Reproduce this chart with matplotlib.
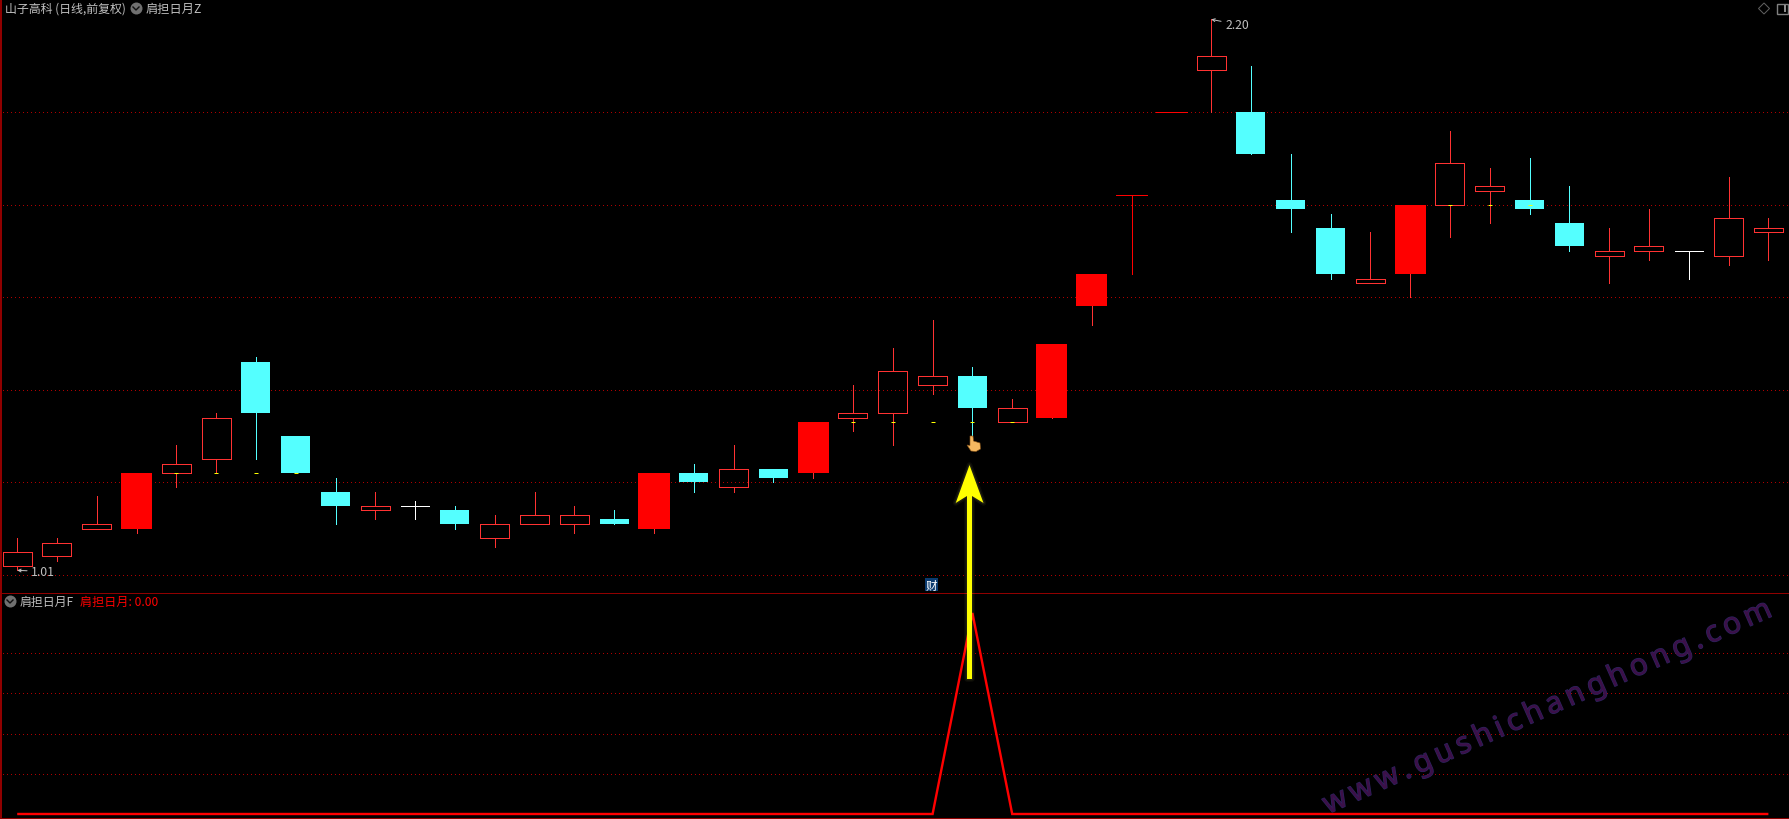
# -*- coding: utf-8 -*-
"""K线 + 肩担日月 副图"""
import matplotlib
matplotlib.use("Agg")
import matplotlib.pyplot as plt
import matplotlib.patheffects as pe
from matplotlib.patches import Polygon, Rectangle

plt.rcParams['font.family'] = ['Noto Sans CJK SC', 'DejaVu Sans']

W, H = 1790, 820

# 日线数据
opens = [1.02, 1.04, 1.10, 1.10, 1.22, 1.25, 1.46, 1.30, 1.18, 1.14, 1.15, 1.14, 1.08, 1.11, 1.11,
         1.12, 1.10, 1.22, 1.19, 1.23, 1.22, 1.34, 1.35, 1.41, 1.43, 1.33, 1.34, 1.58, 1.82, 2.00,
         2.09, 2.00, 1.81, 1.75, 1.63, 1.65, 1.80, 1.83, 1.81, 1.76, 1.69, 1.70, 1.70, 1.69, 1.74]
highs = [1.08, 1.08, 1.17, 1.22, 1.28, 1.35, 1.47, 1.30, 1.21, 1.18, 1.16, 1.15, 1.13, 1.18, 1.15,
         1.14, 1.22, 1.24, 1.28, 1.23, 1.33, 1.41, 1.49, 1.55, 1.45, 1.38, 1.50, 1.65, 1.82, 2.00,
         2.20, 2.10, 1.91, 1.78, 1.74, 1.80, 1.96, 1.88, 1.90, 1.84, 1.75, 1.79, 1.70, 1.86, 1.77]
lows = [1.01, 1.03, 1.10, 1.09, 1.19, 1.22, 1.25, 1.22, 1.11, 1.12, 1.12, 1.10, 1.06, 1.11, 1.09,
        1.11, 1.09, 1.18, 1.18, 1.20, 1.21, 1.31, 1.28, 1.39, 1.30, 1.33, 1.34, 1.54, 1.65, 2.00,
        2.00, 1.91, 1.74, 1.64, 1.63, 1.60, 1.73, 1.76, 1.78, 1.70, 1.63, 1.68, 1.64, 1.67, 1.68]
closes = [1.05, 1.07, 1.11, 1.22, 1.24, 1.34, 1.35, 1.22, 1.15, 1.15, 1.15, 1.11, 1.11, 1.13, 1.13,
          1.11, 1.22, 1.20, 1.23, 1.21, 1.33, 1.35, 1.44, 1.43, 1.36, 1.36, 1.50, 1.65, 1.82, 2.00,
          2.12, 1.91, 1.79, 1.65, 1.64, 1.80, 1.89, 1.84, 1.79, 1.71, 1.70, 1.71, 1.70, 1.77, 1.75]
limit_up = [3, 16, 20, 26, 27, 28, 29, 35]   # 涨停, 实心

# 黄色小标记
mark_idx = [4, 5, 6, 7, 21, 22, 23, 24, 25, 36, 37, 38]
mark_val = [1.22, 1.22, 1.22, 1.22, 1.33, 1.33, 1.33, 1.33, 1.33, 1.80, 1.80, 1.80]

grid_top = [1.0, 1.2, 1.4, 1.6, 1.8, 2.0]
grid_bot = [0.2, 0.4, 0.6, 0.8]

# 副图
signal_idx = list(range(45))
signal = [0] * 24 + [1] + [0] * 20

RED = '#ff3232'
FULL_RED = '#ff0000'
CYAN = '#54ffff'
GRID = '#b00000'
BORDER = '#900000'
GRAY = '#c0c0c0'
PX = 0.72  # 1px in pt at dpi 100


def to_fig(x, y):
    return x / W, 1 - y / H


fig = plt.figure(figsize=(W / 100, H / 100), dpi=100, facecolor='black')
x_lim = (-17.2 / 39.8, (W - 17.2) / 39.8)

ax = fig.add_axes([0, 1 - 593 / H, 1, 593 / H])
ax.set_xlim(*x_lim)
ax.set_ylim(1 - 17 / 463, 1 + 576 / 463)
ax2 = fig.add_axes([0, 0, 1, (H - 593) / H])
ax2.set_xlim(*x_lim)
ax2.set_ylim(-5 / 201, 1 + 21 / 201)
for a in (ax, ax2):
    a.set_facecolor('black')
    a.axis('off')

for g in grid_top:
    ax.axhline(g, xmin=3 / W, color=GRID, lw=PX, ls=(0, (1, 3)), zorder=1, antialiased=False)
for g in grid_bot:
    ax2.axhline(g, xmin=3 / W, color=GRID, lw=PX, ls=(0, (1, 3)), zorder=1, antialiased=False)

# K线
for i in range(len(opens)):
    o, h, l, c = opens[i], highs[i], lows[i], closes[i]
    top, bot = max(o, c), min(o, c)
    if o == c:
        col = FULL_RED if i in limit_up else 'white'
        wid = 31 / 39.8 if i in limit_up else 28 / 39.8
        ax.vlines(i, l, h, color=col, lw=PX, zorder=3, antialiased=False)
        ax.hlines(c, i - wid / 2, i + wid / 2, color=col, lw=PX, zorder=3, antialiased=False)
    elif c < o:
        ax.vlines(i, l, h, color=CYAN, lw=PX, zorder=3, antialiased=False)
        ax.bar(i, top - bot, bottom=bot, width=29 / 39.8, color=CYAN, zorder=4, antialiased=False)
    elif i in limit_up:
        ax.vlines(i, l, h, color=RED, lw=PX, zorder=3, antialiased=False)
        ax.bar(i, top - bot, bottom=bot, width=31 / 39.8, color=FULL_RED, zorder=4, antialiased=False)
    else:
        ax.vlines(i, top, h, color=RED, lw=PX, zorder=3, antialiased=False)
        ax.vlines(i, l, bot, color=RED, lw=PX, zorder=3, antialiased=False)
        ax.bar(i, top - bot, bottom=bot, width=29 / 39.8, facecolor='none', edgecolor=RED,
               lw=PX, zorder=4, antialiased=False)

ax.plot(mark_idx, mark_val, ls='none', marker='_', color='#ffff00', ms=3.0, mew=PX, zorder=5)

# 最高最低价
ax.annotate('1.01', xy=(0, 1.01), xytext=(14, -1), textcoords='offset pixels', color=GRAY, fontsize=8.8,
            va='center', arrowprops=dict(arrowstyle='->', color=GRAY, lw=PX, shrinkA=1, shrinkB=0, mutation_scale=5))
ax.annotate('2.20', xy=(30, 2.20), xytext=(14, -5), textcoords='offset pixels', color=GRAY, fontsize=8.8,
            va='center', arrowprops=dict(arrowstyle='->', color=GRAY, lw=PX, shrinkA=1, shrinkB=0, mutation_scale=5))

# 副图曲线
ax2.plot(signal_idx, signal, color=FULL_RED, lw=2.4 * PX, zorder=3, solid_joinstyle='miter',
         solid_capstyle='butt')

# 边框
fig.add_artist(plt.Line2D([1.5 / W] * 2, [0, 1], color=BORDER, lw=2 * PX))
fig.add_artist(plt.Line2D([0, 1], [1 - 594 / H] * 2, color=BORDER, lw=PX))
fig.add_artist(plt.Line2D([0, 1], [1 - 818.5 / H] * 2, color=BORDER, lw=PX))

# 标题
fig.text(*to_fig(5, 9), '山子高科 (日线,前复权)', color=GRAY, fontsize=8.6, va='center')
fig.text(*to_fig(146, 9), '肩担日月Z', color=GRAY, fontsize=8.8, va='center')
fig.text(*to_fig(20, 602), '肩担日月F', color=GRAY, fontsize=8.6, va='center')
fig.text(*to_fig(80, 602), '肩担日月: 0.00', color='#ff0000', fontsize=8.7, va='center')

for cx, cy in [(136, 9), (10, 602)]:
    fig.add_artist(plt.Line2D([to_fig(cx, cy)[0]], [to_fig(cx, cy)[1]], marker='o', ms=12 * PX,
                              color='#707070', mew=0))
    fig.add_artist(plt.Line2D([to_fig(cx - 3, cy - 1)[0], to_fig(cx, cy + 2)[0], to_fig(cx + 3, cy - 1)[0]],
                              [to_fig(cx - 3, cy - 1)[1], to_fig(cx, cy + 2)[1], to_fig(cx + 3, cy - 1)[1]],
                              color='#101010', lw=1.4 * PX))

# 右上角图标
fig.add_artist(Polygon([to_fig(1764, 4), to_fig(1769.5, 9.5), to_fig(1764, 15), to_fig(1758.5, 9.5)], closed=True,
                       fill=False, ec='#606060', lw=PX, transform=fig.transFigure))
fig.add_artist(Rectangle(to_fig(1777.5, 15), 10.5 / W, 10.5 / H, fill=False, ec='#808080', lw=1.4 * PX,
                         transform=fig.transFigure))
fig.add_artist(Rectangle(to_fig(1784, 13), 2.5 / W, 7 / H, fc='#909090', ec='none', transform=fig.transFigure))

# 财 图标
fig.add_artist(Rectangle(to_fig(925, 592), 13 / W, 13 / H, fc='#0a3a6e', ec='none', transform=fig.transFigure))
fig.text(*to_fig(931.5, 586), '财', color='white', fontsize=8.4, ha='center', va='center')

# 箭头
arrow_pts = [(969.5, 466), (983.5, 504), (972, 497), (972, 680), (967, 680), (967, 497), (955.7, 504)]
for lw_, al in [(4, 0.05), (2, 0.08)]:
    fig.add_artist(Polygon([to_fig(*p) for p in arrow_pts], closed=True, fc='none', ec='#ffff80', lw=lw_,
                           alpha=al, joinstyle='round', transform=fig.transFigure, zorder=8))
fig.add_artist(Polygon([to_fig(*p) for p in arrow_pts], closed=True, fc='#ffff00', ec='none',
                       transform=fig.transFigure, zorder=9))

# 手形
hand = [(970, 437), (973, 437), (973.5, 442), (980, 444), (980.5, 450), (976, 452.5), (971, 452),
        (967, 446), (970, 446.5)]
fig.add_artist(Polygon([to_fig(*p) for p in hand], closed=True, fc='#f5b860', ec='#8a5518', lw=0.6 * PX,
                       transform=fig.transFigure, zorder=9))

# 水印
mark = '\u2009'.join('www.gushichanghong.com')
fig.text(*to_fig(1328, 815), mark, color='#3c1048', fontsize=21.5, rotation=24.0, rotation_mode='anchor',
         family=['Noto Sans', 'DejaVu Sans'], ha='left', va='baseline', zorder=7,
         path_effects=[pe.withStroke(linewidth=0.9, foreground='#2a2560')])

fig.savefig('out.png', dpi=100, facecolor='black')
